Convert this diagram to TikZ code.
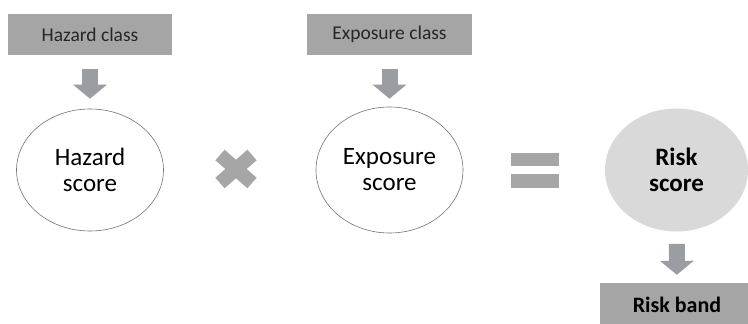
\documentclass[tikz,border=0pt]{standalone}
\usepackage{fontspec}
\setmainfont{Carlito}
\usetikzlibrary{shapes.geometric,arrows.meta,calc}

\definecolor{boxgray}{HTML}{A5A5A5}
\definecolor{arrowgray}{HTML}{9A9DA2}
\definecolor{opgray}{HTML}{A6A6A6}
\definecolor{riskfill}{HTML}{D9D9D9}
\definecolor{inkdark}{HTML}{262626}

\begin{document}
\begin{tikzpicture}[x=1pt,y=-1pt,>=Triangle,
    class box/.style={rectangle,fill=boxgray,inner sep=0pt,text=inkdark,font=\fontsize{19.5}{22}\selectfont},
    score node/.style={ellipse,draw=black!55,line width=0.6pt,inner sep=0pt,align=center,text=black,font=\fontsize{25}{26}\selectfont},
    flow/.style={-{Triangle[width=33pt,length=14pt]},line width=16pt,draw=arrowgray},
    op bar/.style={fill=opgray}]
    \clip (0,0) rectangle (748,324);
    \fill[white] (0,0) rectangle (748,324);

    \node[class box,minimum width=164pt,minimum height=41pt] (hc) at (90,34.5) {Hazard class};
    \node[class box,minimum width=165pt,minimum height=41pt] (ec) at (389.5,34.5) {Exposure class};
    \node[score node,minimum width=147pt,minimum height=122pt] (hs) at (90,170) {Hazard\\score};
    \node[score node,minimum width=147pt,minimum height=126pt] (es) at (389.5,170) {Exposure\\score};
    \node[score node,draw=none,fill=riskfill,minimum width=143pt,minimum height=123pt,font=\fontsize{25}{26}\selectfont\bfseries] (rs) at (676.5,170) {Risk\\score};
    \node[class box,minimum width=154pt,minimum height=44pt,text=black,font=\fontsize{22}{24}\selectfont\bfseries] (rb) at (677,305) {Risk band};

    % times sign
    \coordinate (times) at (236,169);
    \draw[opgray,line width=14pt] ($(times)+(-16,-14)$) -- ($(times)+(16,14)$);
    \draw[opgray,line width=14pt] ($(times)+(-16,14)$) -- ($(times)+(16,-14)$);
    % equals sign
    \fill[op bar] (511,153) rectangle (559,166);
    \fill[op bar] (511,174) rectangle (559,188);

    \path (hc) edge[flow,shorten <=14pt,shorten >=10pt] (hs)
          (ec) edge[flow,shorten <=14pt,shorten >=8pt] (es)
          (rs) edge[flow,shorten <=12pt,shorten >=8pt] (rb);
\end{tikzpicture}
\end{document}
